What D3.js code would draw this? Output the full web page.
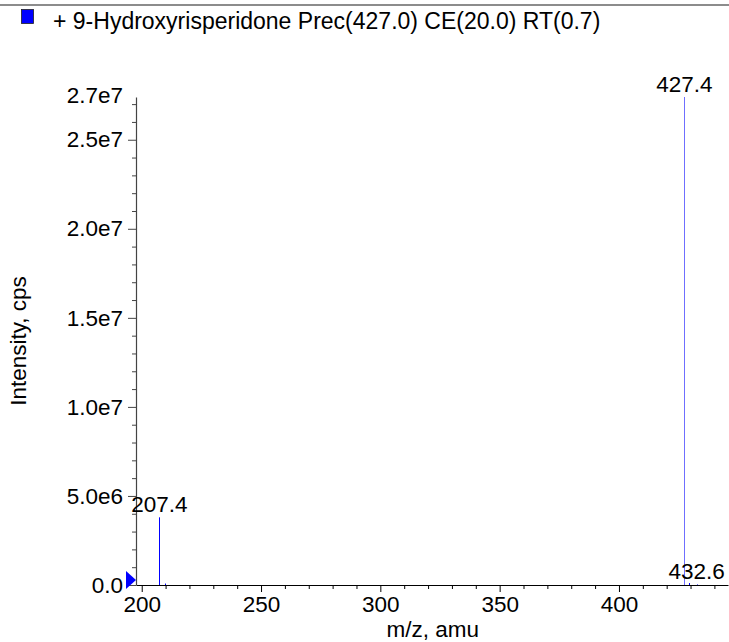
<!DOCTYPE html>
<html>
<head>
<meta charset="utf-8">
<script src="https://cdn.jsdelivr.net/npm/d3@7"></script>
<style>
html,body{margin:0;padding:0;background:#fff;}
svg{display:block;font-family:"Liberation Sans",Arial,Helvetica,sans-serif;}
</style>
</head>
<body>
<svg id="chart" width="729" height="642"></svg>
<script>
// ---- data ----
const titleText = "+ 9-Hydroxyrisperidone Prec(427.0) CE(20.0) RT(0.7)";
const xLabel = "m/z, amu";
const yLabel = "Intensity, cps";
const peakMz = [207.4, 209.8, 427.4, 429.4, 432.6];
const peakIntensity = [3.8e6, 8e4, 2.74e7, 1.1e5, 3e4];
const labelMz = [207.4, 427.4, 432.6];
const labelText = ["207.4", "427.4", "432.6"];
const xMajorTicks = [200, 250, 300, 350, 400];
const xMinorTicks = [210, 220, 230, 240, 260, 270, 280, 290, 310, 320, 330, 340, 360, 370, 380, 390, 410, 420, 430, 440];
const yMajorTicks = [0, 5e6, 1e7, 1.5e7, 2e7, 2.5e7];
const yMajorLabels = ["0.0", "5.0e6", "1.0e7", "1.5e7", "2.0e7", "2.5e7"];
const yMinorTicks = [1e6,2e6,3e6,4e6,6e6,7e6,8e6,9e6,1.1e7,1.2e7,1.3e7,1.4e7,1.6e7,1.7e7,1.8e7,1.9e7,2.1e7,2.2e7,2.3e7,2.4e7,2.6e7,2.7e7];
const yTopLabel = {value: 2.7e7, text: "2.7e7"};
const xDomain = [197.6, 445.7];
const yDomain = [0, 2.74e7];

// ---- layout ----
const svg = d3.select("#chart");
const mLeft = 136, mRight = 728, mTop = 97, mBottom = 585;
const fs = 22.5;
const fsTitle = 23;

const x = d3.scaleLinear().domain(xDomain).range([mLeft, mRight]);
const y = d3.scaleLinear().domain(yDomain).range([mBottom, mTop]);

// top border line
svg.append("line").attr("x1", 0).attr("x2", 729).attr("y1", 5).attr("y2", 5)
  .attr("stroke", "#666").attr("stroke-width", 1.5);

// legend
svg.append("rect").attr("x", 21.5).attr("y", 9.5).attr("width", 12).attr("height", 14)
  .attr("fill", "#0000ff").attr("stroke", "#222").attr("stroke-width", 0.8);
svg.append("text").attr("x", 53).attr("y", 29).attr("font-size", fsTitle)
  .attr("fill", "#000").text(titleText);

// minor ticks
const gxMinor = svg.append("g").attr("transform", `translate(0,${mBottom})`)
  .call(d3.axisBottom(x).tickValues(xMinorTicks).tickSize(4).tickFormat(""));
gxMinor.select(".domain").remove();
gxMinor.selectAll("line").attr("stroke", "#000");

const gyMinor = svg.append("g").attr("transform", `translate(${mLeft},0)`)
  .call(d3.axisLeft(y).tickValues(yMinorTicks).tickSize(4).tickFormat(""));
gyMinor.select(".domain").remove();
gyMinor.selectAll("line").attr("stroke", "#444");

// major axes
const gx = svg.append("g").attr("transform", `translate(0,${mBottom})`)
  .call(d3.axisBottom(x).tickValues(xMajorTicks).tickSize(7).tickPadding(4).tickSizeOuter(0)
    .tickFormat(d3.format("d")));
gx.select(".domain").attr("stroke", "#000").attr("stroke-width", 1.2);
gx.selectAll("line").attr("stroke", "#000");
gx.selectAll("text").attr("font-size", fs).attr("font-family", "Liberation Sans, Arial, sans-serif").attr("fill", "#000");

const gy = svg.append("g").attr("transform", `translate(${mLeft},0)`)
  .call(d3.axisLeft(y).tickValues(yMajorTicks).tickSize(8).tickPadding(5).tickSizeOuter(0)
    .tickFormat((d, i) => yMajorLabels[i]));
gy.select(".domain").attr("stroke", "#444").attr("stroke-width", 1.2);
gy.selectAll("line").attr("stroke", "#444");
gy.selectAll("text").attr("font-size", fs).attr("font-family", "Liberation Sans, Arial, sans-serif").attr("fill", "#000");

// top y label (baseline at tick)
svg.append("text").attr("x", mLeft - 13).attr("y", y(yTopLabel.value) - 1)
  .attr("text-anchor", "end").attr("font-size", fs).attr("fill", "#000").text(yTopLabel.text);

// peaks
svg.append("g").selectAll("line").data(peakMz).join("line")
  .attr("x1", d => Math.round(x(d)) + 0.5).attr("x2", d => Math.round(x(d)) + 0.5)
  .attr("y1", y(0)).attr("y2", (d, i) => y(peakIntensity[i]))
  .attr("stroke", (d, i) => i === 2 ? "#6f6fff" : "#0000ff").attr("stroke-width", 1);

// peak labels
svg.append("g").selectAll("text").data(labelMz).join("text")
  .attr("x", d => x(d))
  .attr("y", d => y(peakIntensity[peakMz.indexOf(d)]) - 5)
  .attr("text-anchor", "middle").attr("font-size", fs).attr("fill", "#000")
  .text((d, i) => labelText[i]);

// baseline marker triangle
svg.append("path")
  .attr("d", `M${mLeft - 10},${y(0) - 14}L${mLeft},${y(0) - 5}L${mLeft - 10},${y(0) + 4}Z`)
  .attr("fill", "#0000ff");

// axis titles
svg.append("text").attr("transform", `translate(26,341) rotate(-90)`)
  .attr("text-anchor", "middle").attr("font-size", fs).attr("fill", "#000").text(yLabel);
svg.append("text").attr("x", 432.7).attr("y", 637)
  .attr("text-anchor", "middle").attr("font-size", fs).attr("fill", "#000").text(xLabel);
</script>
</body>
</html>
